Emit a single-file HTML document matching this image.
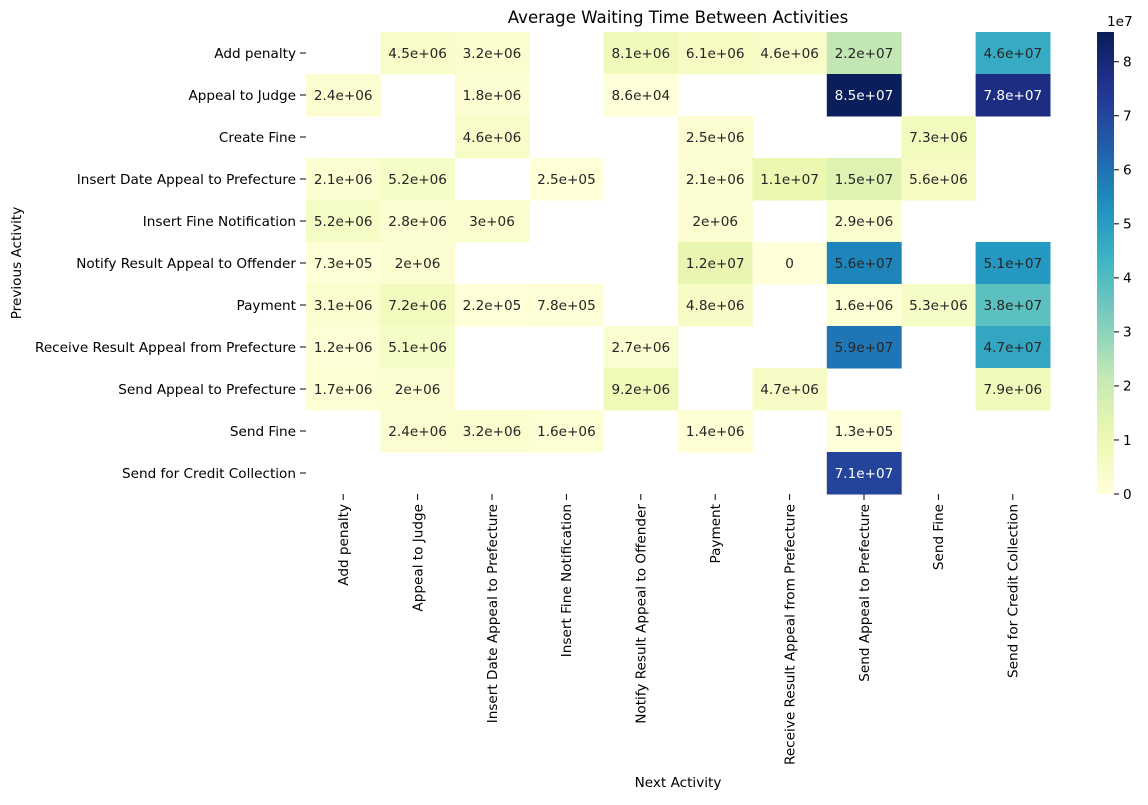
<!DOCTYPE html>
<html><head><meta charset="utf-8"><style>
html,body{margin:0;padding:0;background:#fff;}
svg{font-family:"DejaVu Sans","Liberation Sans",sans-serif;}
text.light{fill:#ffffff !important;}
text.dark{fill:#262626;}
</style></head><body>
<svg id="chart" width="1148" height="800" viewBox="0 0 1148 800" xmlns="http://www.w3.org/2000/svg">
<text x="678" y="23" font-size="16.6" text-anchor="middle">Average Waiting Time Between Activities</text>
<text x="678" y="787" font-size="13.6" text-anchor="middle">Next Activity</text>
<text transform="translate(21,263) rotate(-90)" font-size="13.6" text-anchor="middle">Previous Activity</text>
<g id="cells"></g><g id="ticks"></g><g id="cbar"></g>
</svg>
<script>
const rowLabels=["Add penalty","Appeal to Judge","Create Fine","Insert Date Appeal to Prefecture","Insert Fine Notification","Notify Result Appeal to Offender","Payment","Receive Result Appeal from Prefecture","Send Appeal to Prefecture","Send Fine","Send for Credit Collection"];
const colLabels=["Add penalty","Appeal to Judge","Insert Date Appeal to Prefecture","Insert Fine Notification","Notify Result Appeal to Offender","Payment","Receive Result Appeal from Prefecture","Send Appeal to Prefecture","Send Fine","Send for Credit Collection"];
const N=null;
const values=[
[N,4.5e6,3.2e6,N,8.1e6,6.1e6,4.6e6,2.2e7,N,4.6e7],
[2.4e6,N,1.8e6,N,8.6e4,N,N,8.5e7,N,7.8e7],
[N,N,4.6e6,N,N,2.5e6,N,N,7.3e6,N],
[2.1e6,5.2e6,N,2.5e5,N,2.1e6,1.1e7,1.5e7,5.6e6,N],
[5.2e6,2.8e6,3e6,N,N,2e6,N,2.9e6,N,N],
[7.3e5,2e6,N,N,N,1.2e7,0,5.6e7,N,5.1e7],
[3.1e6,7.2e6,2.2e5,7.8e5,N,4.8e6,N,1.6e6,5.3e6,3.8e7],
[1.2e6,5.1e6,N,N,2.7e6,N,N,5.9e7,N,4.7e7],
[1.7e6,2e6,N,N,9.2e6,N,4.7e6,N,N,7.9e6],
[N,2.4e6,3.2e6,1.6e6,N,1.4e6,N,1.3e5,N,N],
[N,N,N,N,N,N,N,7.1e7,N,N]];
const cbarTicks=[0,1,2,3,4,5,6,7,8];
const vmin=0, vmax=8.55e7;
const X0=306,X1=1050,Y0=32,Y1=494;
const FS=13.6;
const cw=(X1-X0)/colLabels.length, ch=(Y1-Y0)/rowLabels.length;
const xPos=i=>X0+i*cw, yPos=j=>Y0+j*ch;
const stops=["#ffffd9","#edf8b1","#c7e9b4","#7fcdbb","#41b6c4","#1d91c0","#225ea8","#253494","#081d58"];
function hex(h){return [1,3,5].map(k=>parseInt(h.substr(k,2),16));}
function cmap(t){t=Math.max(0,Math.min(1,t));const p=t*(stops.length-1);const i=Math.min(Math.floor(p),stops.length-2);const f=p-i;const a=hex(stops[i]),b=hex(stops[i+1]);return a.map((v,k)=>Math.round(v+(b[k]-v)*f));}
function fmt(v){if(v===0)return "0";let e=Math.floor(Math.log10(Math.abs(v)));let m=v/Math.pow(10,e);m=parseFloat(m.toPrecision(2));if(m>=10){m/=10;e++;}let ms=String(m);return ms+"e"+(e<0?"-":"+")+String(Math.abs(e)).padStart(2,"0");}
const NS="http://www.w3.org/2000/svg";
function mk(tag,attrs,parent,txt){const el=document.createElementNS(NS,tag);for(const k in attrs)el.setAttribute(k,attrs[k]);if(txt!==undefined)el.textContent=txt;parent.appendChild(el);return el;}
const cells=document.getElementById('cells'), ticks=document.getElementById('ticks'), cbar=document.getElementById('cbar');
values.forEach((row,j)=>row.forEach((v,i)=>{
 if(v===null)return;
 const c=cmap((v-vmin)/(vmax-vmin));
 const r=mk('rect',{x:xPos(i),y:yPos(j),width:cw+0.5,height:ch+0.5,fill:`rgb(${c[0]},${c[1]},${c[2]})`},cells);
 
 
 const lum=(0.2126*c[0]+0.7152*c[1]+0.0722*c[2])/255;
 const light=lum<0.408;
 const col=light?'#ffffff':'#262626';
 const t=mk('text',{x:xPos(i)+cw/2,y:yPos(j)+ch/2+4.8,'font-size':FS,'text-anchor':'middle',fill:col,style:'fill:'+col,'class':light?'light':'dark'},cells,fmt(v));
 
 
}));
rowLabels.forEach((l,j)=>{
 const y=yPos(j)+ch/2;
 mk('line',{x1:X0-6,x2:X0,y1:y,y2:y,stroke:'#000','stroke-width':1},ticks);
 const t=mk('text',{x:X0-10,y:y+4.8,'font-size':FS,'text-anchor':'end'},ticks,l);
 
 
});
colLabels.forEach((l,i)=>{
 const x=xPos(i)+cw/2;
 mk('line',{x1:x,x2:x,y1:Y1,y2:Y1+6,stroke:'#000','stroke-width':1},ticks);
 const t=mk('text',{transform:`translate(${x+4.8},${Y1+10}) rotate(-90)`,'font-size':FS,'text-anchor':'end'},ticks,l);
 
 
});
const CX=1097,CW=17;
const defs=mk('defs',{},cbar);
const g=mk('linearGradient',{id:'cg',x1:0,y1:1,x2:0,y2:0},defs);
for(let k=0;k<=20;k++){const c=cmap(k/20);mk('stop',{offset:k/20,'stop-color':`rgb(${c[0]},${c[1]},${c[2]})`},g);}
const cb=mk('rect',{x:CX,y:Y0,width:CW,height:Y1-Y0,fill:'url(#cg)'},cbar);


cbarTicks.forEach(v=>{
 const y=Y1-(v*1e7-vmin)/(vmax-vmin)*(Y1-Y0);
 mk('line',{x1:CX+CW,x2:CX+CW+5,y1:y,y2:y,stroke:'#000'},cbar);
 const t=mk('text',{x:CX+CW+9,y:y+4.8,'font-size':FS},cbar,String(v));
 
 
});
const ex=mk('text',{x:CX+10,y:26,'font-size':FS},cbar,'1e7');


</script>
</body></html>
